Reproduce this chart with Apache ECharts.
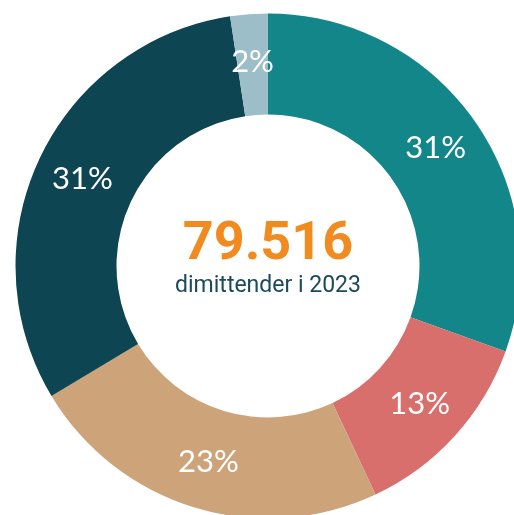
<!DOCTYPE html>
<html>
<head>
<meta charset="utf-8">
<script src="https://cdn.jsdelivr.net/npm/echarts@6/dist/echarts.min.js"></script>
<style>
  html, body { margin: 0; padding: 0; background: #fff; }
  #chart { width: 514px; height: 515px; }
</style>
</head>
<body>
<div id="chart"></div>
<script>
// andele af dimittender (procent), med uret fra kl. 12
const categories = ['Gruppe A', 'Gruppe B', 'Gruppe C', 'Gruppe D', 'Gruppe E'];
const shares = [30.5, 12.5, 23.4, 31.2, 2.4];
const colors = ['#138689', '#D86F6C', '#CDA47A', '#0E4552', '#9BBEC8'];
const totalLabel = '79.516';
const subLabel = 'dimittender i 2023';

const chart = echarts.init(document.getElementById('chart'));

chart.setOption({
    backgroundColor: '#fff',
    animation: false,
    graphic: [
        { type: 'text', x: 268, y: 245, style: { text: totalLabel, fill: '#F28B1F', font: 'bold 54px Roboto', align: 'center', verticalAlign: 'middle' } },
        { type: 'text', x: 268, y: 286, style: { text: subLabel, fill: '#1B4A5A', font: '23px Roboto', align: 'center', verticalAlign: 'middle' } }
    ],
    series: [{
        type: 'pie',
        center: [268, 266],
        radius: [151.5, 252.5],
        startAngle: 90,
        clockwise: true,
        avoidLabelOverlap: false,
        emphasis: { disabled: true },
        label: {
            show: true,
            position: 'inside',
            color: '#fff',
            fontFamily: 'Lato',
            fontWeight: 'normal',
            fontSize: 31,
            formatter: p => Math.round(p.value) + '%'
        },
        labelLine: { show: false },
        data: categories.map((c, i) => ({ name: c, value: shares[i], itemStyle: { color: colors[i] } }))
    }]
});
</script>
</body>
</html>
